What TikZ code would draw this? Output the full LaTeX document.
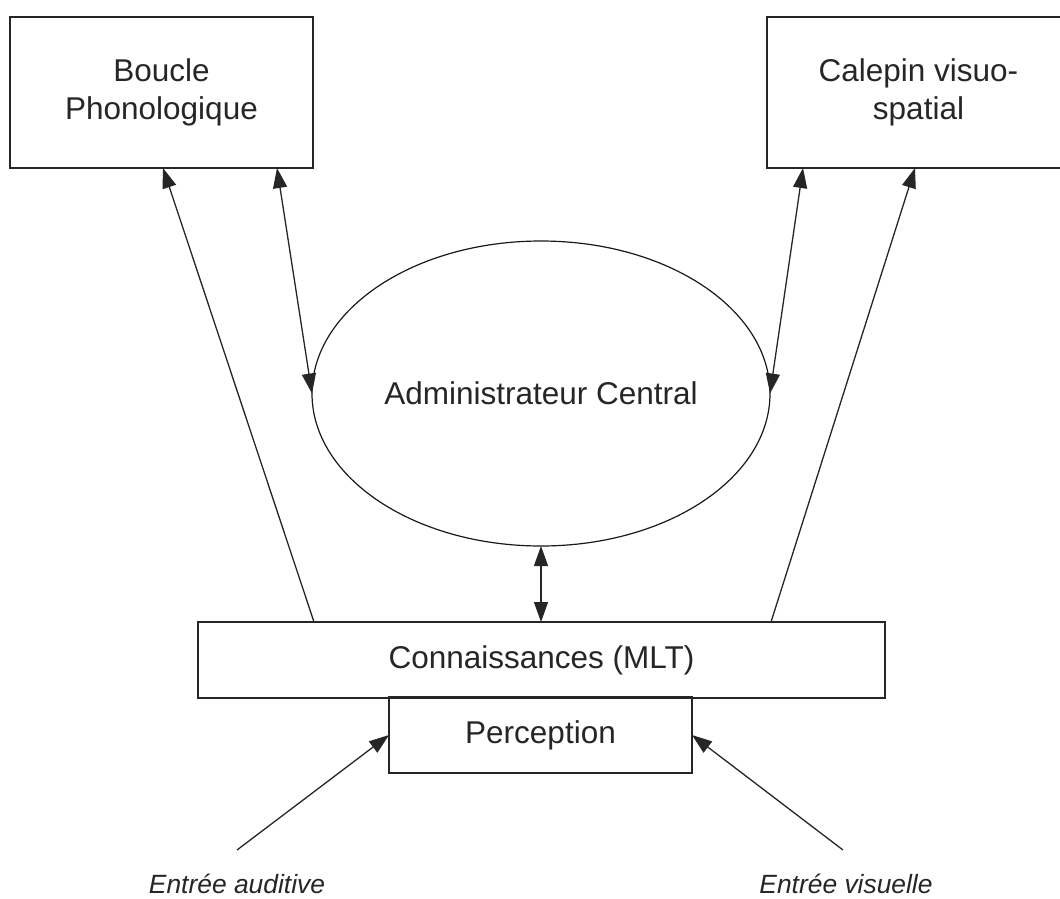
\documentclass[tikz,border=0pt]{standalone}
\usepackage{fontspec}
\setmainfont{Liberation Sans}
\usetikzlibrary{shapes.geometric,arrows.meta}

\begin{document}
\begin{tikzpicture}[x=1pt,y=-1pt,
  every node/.style={inner sep=0pt,outer sep=0pt},
  unit/.style={draw=black!85,line width=1.6pt,rectangle,align=center,
    text=black!85,font=\fontsize{31.5}{38}\selectfont},
  core/.style={draw=black!90,line width=1.2pt,ellipse,
    text=black!85,font=\fontsize{31.5}{38}\selectfont},
  inlabel/.style={font=\fontsize{26.4}{30}\selectfont\itshape,text=black!85},
  link/.style={draw=black!85,line width=1.3pt},
  tip/.style={-{Triangle[length=20pt,width=14pt]}},
  tips/.style={{Triangle[length=20pt,width=14pt]}-{Triangle[length=20pt,width=14pt]}}
]
  % page frame (the right-hand store runs past the edge)
  \clip (0,0) rectangle (1060,898);
  \fill[white] (0,0) rectangle (1060,898);

  % stores and central executive
  \node[unit,minimum width=303pt,minimum height=151pt] (boucle) at (161.5,92.5)
    {Boucle\\Phonologique};
  \node[unit,minimum width=303pt,minimum height=151pt] (calepin) at (918.5,92.5)
    {Calepin visuo-\\spatial};
  \node[core,minimum width=458pt,minimum height=305pt] (admin) at (541,393.5)
    {Administrateur Central};

  % long-term knowledge and perception
  \node[unit,minimum width=687pt,minimum height=76pt] (conn) at (541.5,660)
    {Connaissances (MLT)};
  \node[unit,minimum width=303pt,minimum height=76pt] (perc) at (540.5,735)
    {Perception};

  % sensory inputs
  \node[inlabel] (aud) at (237,884) {Entrée auditive};
  \node[inlabel] (vis) at (846,884) {Entrée visuelle};
  \coordinate (ina) at (237,850);
  \coordinate (inv) at (843,850);

  % connectors
  \draw[link,tip] ([xshift=116pt]conn.north west) -- ([xshift=153pt]boucle.south west);
  \draw[link,tip] ([xshift=-114pt]conn.north east) -- ([xshift=148pt]calepin.south west);
  \draw[link,tips] ([xshift=267pt]boucle.south west) -- (admin.west);
  \draw[link,tips] ([xshift=36pt]calepin.south west) -- (admin.east);
  \draw[link,tips] (admin.south) -- (admin.south |- conn.north);
  \draw[link,tip] (ina) -- (perc.west);
  \draw[link,tip] (inv) -- (perc.east);
\end{tikzpicture}
\end{document}
